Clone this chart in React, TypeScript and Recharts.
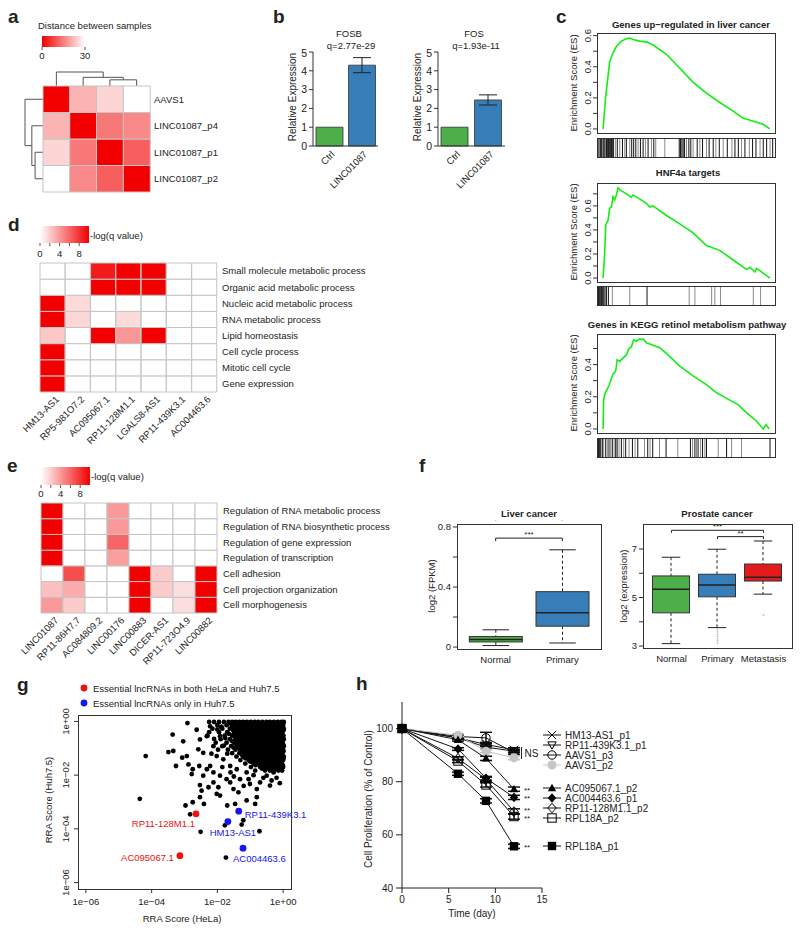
import React from "react";
import {
  BarChart, Bar, Cell, XAxis, YAxis, LineChart, Line, ErrorBar,
  ScatterChart, Scatter, ComposedChart, ReferenceLine,
} from "recharts";

const FONT = "'Liberation Sans', Arial, Helvetica, sans-serif";
const FS = 9.5;
const INK = "#222";
const GREEN = "#4DAF4A";
const BLUE = "#377EB8";
const RED = "#E41A1C";
const HEAT_RED = [242, 0, 0];

// ---- a: distance between samples
const distSamples = ["AAVS1", "LINC01087_p4", "LINC01087_p1", "LINC01087_p2"];
const distValues = [
  [0, 21, 25, 31],
  [21, 0, 14, 16],
  [25, 14, 0, 11],
  [31, 16, 11, 0],
];
// [leftPos, leftHeight, rightPos, rightHeight, mergeHeight]
const distMerges = [
  [2, 0, 3, 0, 0.44],
  [1, 0, 2.5, 0.44, 0.62],
  [0, 0, 1.75, 0.62, 1],
];

// ---- b: relative expression
const exprGroups = ["Ctrl", "LINC01087"];
const exprColors = [GREEN, BLUE];
const fosbMean = [1, 4.3];
const fosbErr = [0, 0.4];
const fosMean = [1, 2.45];
const fosErr = [0, 0.27];

// ---- c: GSEA running enrichment scores (x = rank position, % of list)
const gsea1X = [3.4, 4.9, 7.1, 9, 10.9, 13.7, 16.5, 18.4, 20.3, 24, 27.8, 31.5, 39, 46.5, 54, 61.5, 69, 76.5, 82, 87.8, 93.4, 97];
const gsea1ES = [0, 0.21, 0.43, 0.49, 0.53, 0.565, 0.58, 0.585, 0.575, 0.565, 0.56, 0.54, 0.48, 0.39, 0.3, 0.23, 0.17, 0.115, 0.07, 0.05, 0.03, 0];
const gsea2X = [3.4, 4.3, 4.9, 6.2, 7.1, 8.1, 9, 9.9, 10.9, 11.8, 12.8, 16.5, 19.3, 20.3, 22.1, 27.8, 29.6, 31.5, 39, 46.5, 54, 61.5, 65.3, 69, 76.5, 84.1, 85.9, 88.7, 89.7, 97.2];
const gsea2ES = [0, 0.2, 0.44, 0.48, 0.58, 0.59, 0.675, 0.65, 0.69, 0.75, 0.735, 0.7, 0.67, 0.69, 0.675, 0.62, 0.59, 0.6, 0.52, 0.45, 0.375, 0.27, 0.25, 0.23, 0.15, 0.07, 0.09, 0.05, 0.08, 0];
const gsea3X = [3.4, 3.75, 4.5, 5.6, 6.75, 8.1, 9, 10.5, 11.3, 12.8, 14.6, 16.5, 18, 19.3, 20.6, 22.1, 24, 24.9, 25.9, 27.8, 31.5, 35.3, 39, 46.5, 54, 61.5, 67.2, 72.8, 79.4, 84.1, 89.7, 93.4, 94.9, 96.8];
const gsea3ES = [0, 0.18, 0.22, 0.245, 0.27, 0.315, 0.34, 0.36, 0.43, 0.42, 0.44, 0.46, 0.5, 0.51, 0.555, 0.545, 0.56, 0.555, 0.56, 0.535, 0.52, 0.505, 0.47, 0.39, 0.33, 0.275, 0.225, 0.19, 0.15, 0.1, 0.048, 0, 0.027, 0];
const barcode1Dark = [0.4, 1.1, 1.9, 2.6, 3.4, 3.9, 4.5, 5.3, 5.8, 6.4, 6.9, 7.5, 8.1, 8.6, 9.2, 11.4, 14.3, 16.5, 19.5, 20.6, 21.8, 24.4, 25.9, 28.7, 31.9, 46.2, 46.9, 47.7, 48.4, 49.2, 51.6, 52.7, 56.3, 59.3, 63, 65.3, 68.7, 73.2, 77.5, 79.4, 83.1, 87.4, 89.3, 93.4, 95.3, 98.7];
const barcode1Gray = [10.3, 12.8, 15.6, 18.4, 23.1, 27.2, 30.6, 33, 38.1, 50.3, 54, 57.8, 61.5, 66.8, 70.9, 75.8, 81.2, 85.6, 91.6, 97.2];
const barcode2Dark = [0.4, 0.9, 1.5, 2.1, 2.6, 3.2, 3.8, 4.5, 5.3, 6.4, 28.1];
const barcode2Gray = [8.6, 18.4, 51.8, 55, 64.4, 66.2, 69.4, 87.8, 91.9];
const barcode3Dark = [0.4, 0.9, 1.5, 2.1, 3, 4.9, 6.75, 8.6, 10.5, 11.3, 13.7, 16.1, 19.9, 22.9, 28.5, 31.3, 38.8, 52.5, 55, 56.8, 59.3, 61.5, 72.8, 97.2];
const barcode3Gray = [3.75, 5.8, 7.7, 9.6, 12.4, 15, 18, 21.4, 26.7, 29.8, 35.1, 45.4, 53.7, 55.9, 58.2, 60.6, 68.1, 75.6, 81.2];

// ---- d, e: GO enrichment -log(q)
const goLncD = ["HM13-AS1", "RP5-981O7.2", "AC095067.1", "RP11-128M1.1", "LGALS8-AS1", "RP11-439K3.1", "AC004463.6"];
const goTermsD = ["Small molecule metabolic process", "Organic acid metabolic process", "Nucleic acid metabolic process", "RNA metabolic process", "Lipid homeostasis", "Cell cycle process", "Mitotic cell cycle", "Gene expression"];
const goValuesD = [
  [0, 0, 9, 10, 10, 0, 0],
  [0, 0, 10, 10, 10, 0, 0],
  [10, 1.4, 0, 0, 0, 0, 0],
  [10, 1.6, 0, 1.4, 0, 0, 0],
  [2.2, 0, 10, 4.1, 10, 0, 0],
  [10, 0, 0, 0, 0, 0, 0],
  [10, 0, 0, 0, 0, 0, 0],
  [10, 0, 0, 0, 0, 0, 0],
];
const goLncE = ["LINC01087", "RP11-86H7.7", "AC084809.2", "LINC00176", "LINC00883", "DICER-AS1", "RP11-723O4.9", "LINC00882"];
const goTermsE = ["Regulation of RNA metabolic process", "Regulation of RNA biosynthetic process", "Regulation of gene expression", "Regulation of transcription", "Cell adhesion", "Cell projection organization", "Cell morphogenesis"];
const goValuesE = [
  [10, 0, 0, 4, 0, 0, 0, 0],
  [10, 0, 0, 4, 0, 0, 0, 0],
  [10, 0, 0, 6, 0, 0, 0, 0],
  [10, 0, 0, 3.8, 0, 0, 0, 0],
  [0, 7, 0, 0, 10, 2, 0, 10],
  [2.5, 3.2, 0, 0, 10, 2, 1.3, 10],
  [4, 2, 0, 0, 10, 0, 1.3, 10],
];

// ---- f: boxplots [lo, q1, median, q3, hi]
const liverGroups = ["Normal", "Primary"];
const liverStats = [
  [0.01, 0.034, 0.05, 0.07, 0.115],
  [0.027, 0.139, 0.228, 0.369, 0.648],
];
const liverSig = [{ from: 1, to: 2, y: 0.726, label: "***" }];
const prostateGroups = ["Normal", "Primary", "Metastasis"];
const prostateStats = [
  [3.1, 4.37, 5.34, 5.89, 6.66],
  [3.76, 5.03, 5.52, 5.96, 6.99],
  [5.14, 5.68, 5.84, 6.38, 7.33],
];
const prostateOutliers = [[2, 3.68], [2, 3.58], [2, 3.48], [2, 3.4], [2, 3.3], [2, 3.22], [2, 3.12], [3, 4.27]];
const prostateSig = [
  { from: 1, to: 3, y: 7.77, label: "***" },
  { from: 2, to: 3, y: 7.51, label: "**" },
];

// ---- g: RRA scores, log10 (HeLa, Huh7.5)
const rraSparse = [
  [-4.36, -2.88], [-4.18, -1.29], [-2.91, -0.06], [-3.36, -0.49], [-3.49, -1.14], [-3.34, -1.1], [-3.26, -1.66], [-3.07, -1.35],
  [-2.93, -1.29], [-3.04, -0.74], [-2.88, -1.6], [-2.75, -1.78], [-2.78, -1.96], [-2.55, -1.66], [-2.53, -2.37], [-2.48, -2.58],
  [-2.53, -2.82], [-2.75, -3.01], [-2.97, -3.13], [-2.83, -3.46], [-2.51, -4.11], [-2.41, -3.07], [-2.27, -2.45], [-2.12, -2.27],
  [-1.97, -2.45], [-2.02, -2.7], [-1.92, -2.76], [-1.7, -3.13], [-1.77, -3.87], [-1.26, -3.84], [-1.21, -3.68], [-0.72, -4.09],
  [-1.74, -5.07], [-1.46, -3.07], [-1.11, -2.94], [-0.85, -3.07], [-0.8, -2.82], [-1.51, -2.52], [-1.36, -2.64], [-1.61, -2.27],
  [-2.32, -1.78], [-2.22, -1.66], [-2.12, -1.9], [-2.43, -2.02], [-1.92, -2.02], [-1.72, -2.15], [-1.31, -2.15], [-1.01, -2.33],
  [-0.7, -2.27], [-0.5, -2.02], [-0.29, -1.9], [-0.09, -1.78], [-0.4, -2.39], [-0.8, -2.52], [-2.58, -1.04], [-2.43, -1.17],
  [-2.32, -0.55], [-2.22, -0.18], [-2.12, -0.92], [-2.02, -1.29], [-1.92, -0.55], [-1.82, -1.41], [-1.61, -1.66], [-1.41, -1.78],
  [-1.11, -1.9], [-2.53, -0.67], [-2.63, -0.31], [-2.0, -0.3], [-1.8, -0.9], [-1.7, -1.2], [-0.9, -2.0], [-0.6, -2.1],
  [-0.2, -2.1], [-1.2, -2.4], [-1.6, -1.9], [-2.25, -0.4], [-2.1, -0.65], [-1.98, -1.05], [-1.88, -0.2], [-1.76, -0.62],
  [-2.18, -1.2], [-1.85, -1.7], [-1.5, -2.05], [-1.05, -2.15], [-0.35, -2.2], [-0.1, -2.3],
];
// dense cloud, by row: [log10 Huh7.5, log10 HeLa values]
const rraCloud: [number, number[]][] = [
  [-0.02, [-2.25, -2.1, -1.95, -1.8, -1.66, -1.55, -1.44, -1.33, -1.22, -1.1, -0.98, -0.86, -0.75, -0.63, -0.51, -0.4, -0.28, -0.16, -0.05, 0.02]],
  [-0.08, [-1.6, -1.49, -1.38, -1.27, -1.16, -1.04, -0.92, -0.8, -0.69, -0.57, -0.45, -0.34, -0.22, -0.1, 0.0]],
  [-0.14, [-2.0, -1.72, -1.5, -1.39, -1.27, -1.15, -1.04, -0.92, -0.8, -0.69, -0.57, -0.45, -0.34, -0.22, -0.1, 0.0]],
  [-0.2, [-1.88, -1.55, -1.44, -1.33, -1.21, -1.09, -0.97, -0.86, -0.74, -0.62, -0.5, -0.39, -0.27, -0.15, -0.04]],
  [-0.27, [-2.15, -1.85, -1.62, -1.47, -1.35, -1.23, -1.11, -0.99, -0.87, -0.76, -0.64, -0.52, -0.4, -0.29, -0.17, -0.06, 0.02]],
  [-0.33, [-1.52, -1.4, -1.28, -1.16, -1.04, -0.93, -0.81, -0.69, -0.57, -0.46, -0.34, -0.22, -0.1, 0.01]],
  [-0.4, [-1.95, -1.7, -1.45, -1.32, -1.2, -1.08, -0.96, -0.84, -0.72, -0.61, -0.49, -0.37, -0.25, -0.13, -0.02]],
  [-0.46, [-1.65, -1.5, -1.37, -1.25, -1.13, -1.01, -0.89, -0.78, -0.66, -0.54, -0.42, -0.31, -0.19, -0.07]],
  [-0.53, [-2.3, -1.78, -1.55, -1.42, -1.3, -1.18, -1.06, -0.94, -0.82, -0.7, -0.58, -0.46, -0.35, -0.23, -0.11, 0.01]],
  [-0.6, [-1.46, -1.34, -1.22, -1.1, -0.98, -0.86, -0.75, -0.63, -0.51, -0.39, -0.28, -0.16, -0.04]],
  [-0.66, [-1.9, -1.62, -1.4, -1.28, -1.16, -1.04, -0.92, -0.8, -0.68, -0.56, -0.45, -0.33, -0.21, -0.09, 0.02]],
  [-0.72, [-1.56, -1.43, -1.31, -1.19, -1.07, -0.95, -0.83, -0.72, -0.6, -0.48, -0.36, -0.25, -0.13, -0.01]],
  [-0.79, [-2.05, -1.72, -1.5, -1.37, -1.25, -1.13, -1.01, -0.89, -0.77, -0.66, -0.54, -0.42, -0.3, -0.18, -0.07]],
  [-0.85, [-1.42, -1.3, -1.18, -1.06, -0.94, -0.82, -0.7, -0.59, -0.47, -0.35, -0.23, -0.12, 0.0]],
  [-0.92, [-1.85, -1.58, -1.36, -1.24, -1.12, -1.0, -0.88, -0.76, -0.64, -0.52, -0.41, -0.29, -0.17, -0.05, 0.02]],
  [-0.98, [-1.5, -1.36, -1.24, -1.12, -1.0, -0.88, -0.76, -0.65, -0.53, -0.41, -0.29, -0.17, -0.06]],
  [-1.05, [-1.68, -1.45, -1.3, -1.18, -1.06, -0.94, -0.82, -0.7, -0.59, -0.47, -0.35, -0.23, -0.11, 0.0]],
  [-1.11, [-1.28, -1.14, -1.02, -0.9, -0.78, -0.66, -0.54, -0.43, -0.31, -0.19, -0.07, 0.01]],
  [-1.18, [-1.55, -1.33, -1.2, -1.08, -0.96, -0.84, -0.72, -0.6, -0.49, -0.37, -0.25, -0.13, -0.02]],
  [-1.24, [-1.25, -1.13, -1.02, -0.9, -0.78, -0.66, -0.54, -0.43, -0.31, -0.19, -0.08]],
  [-1.31, [-1.42, -1.22, -1.1, -0.98, -0.86, -0.74, -0.62, -0.5, -0.39, -0.27, -0.15, -0.04, 0.02]],
  [-1.37, [-1.15, -1.04, -0.92, -0.8, -0.68, -0.56, -0.45, -0.33, -0.21, -0.09, 0.01]],
  [-1.44, [-1.3, -1.05, -0.93, -0.81, -0.69, -0.57, -0.45, -0.34, -0.22, -0.1, 0.0]],
  [-1.5, [-1.0, -0.87, -0.75, -0.63, -0.51, -0.4, -0.28, -0.16, -0.04]],
  [-1.57, [-1.15, -0.9, -0.78, -0.66, -0.54, -0.42, -0.31, -0.19, -0.07]],
  [-1.63, [-0.84, -0.72, -0.6, -0.48, -0.37, -0.25, -0.13, -0.01]],
  [-1.7, [-0.98, -0.7, -0.58, -0.46, -0.35, -0.23, -0.11, 0.0]],
  [-1.76, [-0.64, -0.52, -0.41, -0.29, -0.17, -0.05]],
  [-1.83, [-0.85, -0.55, -0.4, -0.26, -0.14, -0.03]],
];
const rraBoth = [
  { name: "RP11-128M1.1", x: -2.65, y: -3.44, dx: -1, dy: 13.5, anchor: "end" },
  { name: "AC095067.1", x: -3.14, y: -5.0, dx: -6, dy: 5.5, anchor: "end" },
];
const rraHuh = [
  { name: "RP11-439K3.1", x: -1.35, y: -3.34, dx: 6, dy: 6.5, anchor: "start" },
  { name: "HM13-AS1", x: -1.68, y: -3.73, dx: 5, dy: 14.5, anchor: "middle" },
  { name: "AC004463.6", x: -1.22, y: -4.72, dx: -10, dy: 14, anchor: "start" },
];
const G_RED = "#EE1111";
const G_BLUE = "#1515EE";

// ---- h: cell proliferation
const hTimes = [0, 6, 9, 12];
const hNames = ["HM13-AS1_p1", "RP11-439K3.1_p1", "AAVS1_p3", "AAVS1_p2", "AC095067.1_p2", "AC004463.6_p1", "RP11-128M1.1_p2", "RPL18A_p2", "RPL18A_p1"];
const hValues = [
  [100, 96.5, 94, 92],
  [100, 96.5, 93, 91.5],
  [100, 97, 96.5, 91],
  [100, 97.5, 91.5, 89],
  [100, 95.8, 88.8, 77.2],
  [100, 92.3, 81.3, 74.1],
  [100, 88.8, 80.9, 68.8],
  [100, 87.8, 78.8, 66.9],
  [100, 83, 72.8, 55.7],
];
const hErrors = [
  [0, 0.6, 0.8, 0.8], [0, 0.5, 0.8, 0.6], [0, 0.6, 2.1, 0.8], [0, 0.5, 0.6, 0.7], [0, 0.5, 0.8, 0.8],
  [0, 0.5, 0.7, 0.8], [0, 0.6, 0.8, 1], [0, 0.6, 0.8, 1], [0, 0.6, 0.8, 0.8],
];
const hMarkers = ["x", "triDownOpen", "circleOpen", "circleGray", "triUp", "diamond", "diamondOpen", "squareOpen", "square"];
const hLegendY = [735, 745, 755, 765, 788, 798, 808, 818, 846];
const hStars = [793, 801, 812.5, 821, 849.5];

// ---------------- helpers ----------------
type Box = { x: number; y: number; w: number; h: number };
const P = 4;
function frame(b: Box, o: { yl?: number; yr?: number; xb?: number; mr?: number; ml?: number; mt?: number } = {}) {
  const yl = o.yl || 0, yr = o.yr || 0, xb = o.xb || 0, mr = o.mr || 0, ml = o.ml || 0, mt = o.mt || 0;
  return {
    style: { position: "absolute" as const, left: b.x - yl - ml - P, top: b.y - mt - P },
    width: b.w + yl + yr + mr + ml + 2 * P,
    height: b.h + xb + mt + 2 * P,
    margin: { top: P + mt, right: P + mr, bottom: P, left: P + ml },
  };
}

function heatColor(t: number) {
  const k = Math.max(0, Math.min(1, t));
  const c = (full: number) => Math.round(255 + (full - 255) * k);
  return `rgb(${c(HEAT_RED[0])},${c(HEAT_RED[1])},${c(HEAT_RED[2])})`;
}

const tickStyle = { fontSize: FS, fill: INK, fontFamily: FONT };

const RotYTick = (props: any) => {
  const { x, y, payload, fmt } = props;
  const label = fmt ? fmt(payload.value) : payload.value;
  return (
    <text x={x} y={y} transform={`rotate(-90, ${x}, ${y})`} textAnchor="middle" fontSize={FS} fontFamily={FONT} fill={INK}>
      {label}
    </text>
  );
};

const DiagTick = (props: any) => {
  const { x, y, payload, dx = 7, dy = 8 } = props;
  const px = x + dx, py = y + dy;
  return (
    <text x={px} y={py} transform={`rotate(-45, ${px}, ${py})`} textAnchor="end" fontSize={FS} fontFamily={FONT} fill={INK}>
      {payload.value}
    </text>
  );
};

const RowTick = (props: any) => {
  const { x, y, payload, rows } = props;
  const n = rows.length;
  return (
    <text x={x} y={y} dy="0.35em" textAnchor="start" fontSize={FS} fontFamily={FONT} fill={INK}>
      {rows[n - 1 - Math.floor(payload.value)]}
    </text>
  );
};

function Marker({ kind, cx, cy, s = 4.2 }: { kind: string; cx: number; cy: number; s?: number }) {
  const k = "#000";
  switch (kind) {
    case "x":
      return (
        <g stroke={k} strokeWidth={1}>
          <line x1={cx - s} y1={cy - s} x2={cx + s} y2={cy + s} />
          <line x1={cx - s} y1={cy + s} x2={cx + s} y2={cy - s} />
        </g>
      );
    case "triDownOpen":
      return <polygon points={`${cx - s},${cy - s * 0.75} ${cx + s},${cy - s * 0.75} ${cx},${cy + s}`} fill="none" stroke={k} />;
    case "triUp":
      return <polygon points={`${cx - s},${cy + s * 0.75} ${cx + s},${cy + s * 0.75} ${cx},${cy - s}`} fill={k} />;
    case "circleOpen":
      return <circle cx={cx} cy={cy} r={s} fill="none" stroke={k} />;
    case "circleGray":
      return <circle cx={cx} cy={cy} r={s + 0.3} fill="#c6c6c6" />;
    case "diamond":
      return <polygon points={`${cx},${cy - s - 0.6} ${cx + s},${cy} ${cx},${cy + s + 0.6} ${cx - s},${cy}`} fill={k} />;
    case "diamondOpen":
      return <polygon points={`${cx},${cy - s - 0.6} ${cx + s},${cy} ${cx},${cy + s + 0.6} ${cx - s},${cy}`} fill="none" stroke={k} />;
    case "squareOpen":
      return <rect x={cx - s} y={cy - s} width={2 * s} height={2 * s} fill="none" stroke={k} />;
    default:
      return <rect x={cx - s} y={cy - s} width={2 * s} height={2 * s} fill={k} />;
  }
}

// ---------------- panels ----------------
function Dendrogram({ box, side }: { box: Box; side: "top" | "left" }) {
  const f = frame(box);
  const segs = distMerges.map(([a, ah, b, bh, h]) => [
    { p: a, h: ah }, { p: a, h }, { p: b, h }, { p: b, h: bh },
  ]);
  const posAxis = { type: "number" as const, domain: [-0.5, 3.5], hide: true };
  return (
    <div style={f.style}>
      <LineChart width={f.width} height={f.height} margin={f.margin}>
        {side === "top" ? <XAxis dataKey="p" {...posAxis} /> : <XAxis dataKey="h" type="number" domain={[0, 1]} reversed hide />}
        {side === "top" ? <YAxis type="number" domain={[0, 1]} hide /> : <YAxis {...posAxis} reversed />}
        {segs.map((d, i) => (
          <Line key={i} data={d} dataKey={side === "top" ? "h" : "p"} type="linear" stroke="#555" strokeWidth={1} dot={false} isAnimationActive={false} />
        ))}
      </LineChart>
    </div>
  );
}

function Heatmap(props: {
  box: Box; rows: string[]; cols: string[]; values: number[][]; scale: (v: number) => string;
  labelW: number; xb: number; showCols: boolean; gap: number; ml: number;
}) {
  const { box, rows, cols, values, scale, labelW, xb, showCols, gap, ml } = props;
  const n = rows.length;
  const data = cols.map((c) => {
    const o: any = { name: c };
    rows.forEach((_, ri) => (o["r" + ri] = 1));
    return o;
  });
  const f = frame(box, { yr: labelW, xb, ml });
  return (
    <div style={f.style}>
      <BarChart width={f.width} height={f.height} margin={f.margin} data={data} barCategoryGap={0} barGap={0}>
        <XAxis dataKey="name" type="category" hide={!showCols} height={xb} interval={0} tickLine={false} axisLine={false}
          tickSize={0} tickMargin={0} tick={<DiagTick />} />
        <YAxis orientation="right" type="number" domain={[0, n]} ticks={rows.map((_, i) => i + 0.5)} interval={0}
          width={labelW} tickLine={false} axisLine={false} tickSize={0} tickMargin={gap} tick={<RowTick rows={rows} />} />
        {rows.map((_, k) => {
          const ri = n - 1 - k;
          return (
            <Bar key={k} dataKey={"r" + ri} stackId="h" stroke="#c4c4c4" strokeWidth={1} isAnimationActive={false}>
              {cols.map((_, ci) => <Cell key={ci} fill={scale(values[ri][ci])} />)}
            </Bar>
          );
        })}
      </BarChart>
    </div>
  );
}

function ExprBars({ box, mean, err }: { box: Box; mean: number[]; err: number[] }) {
  const data = exprGroups.map((g, i) => ({ name: g, v: mean[i], e: err[i] }));
  const f = frame(box, { yl: 24, xb: 44 });
  return (
    <div style={f.style}>
      <BarChart width={f.width} height={f.height} margin={f.margin} data={data} barSize={27}>
        <XAxis dataKey="name" interval={0} height={44} tickLine={false} tickSize={0} tickMargin={0}
          axisLine={{ stroke: "#333" }} tick={<DiagTick dx={6} dy={9} />} />
        <YAxis domain={[0, 5]} ticks={[0, 1, 2, 3, 4, 5]} width={24} tickSize={4} tickMargin={2}
          axisLine={{ stroke: "#333" }} tickLine={{ stroke: "#333" }} tick={{ ...tickStyle, fontSize: 10.5 }} />
        <Bar dataKey="v" stroke="#333" strokeWidth={0.8} isAnimationActive={false}>
          {data.map((_, i) => <Cell key={i} fill={exprColors[i]} />)}
          <ErrorBar dataKey="e" width={9} stroke="#222" strokeWidth={1} />
        </Bar>
      </BarChart>
    </div>
  );
}

function Gsea({ box, strip, xs, es, domain, ticks, dark, gray }: {
  box: Box; strip: Box; xs: number[]; es: number[]; domain: number[]; ticks: number[]; dark: number[]; gray: number[];
}) {
  const data = xs.map((x, i) => ({ x, es: es[i] }));
  const bars = [...gray.map((x) => ({ x, y: 0.5, c: "#8a8a8a" })), ...dark.map((x) => ({ x, y: 0.5, c: "#111" }))];
  const f = frame(box, { yl: 24 });
  const fs = frame(strip);
  const fmt = (v: number) => (Math.round(v * 10) % 2 === 0 ? v.toFixed(1) : "");
  return (
    <>
      <div style={f.style}>
        <LineChart width={f.width} height={f.height} margin={f.margin} data={data}>
          <XAxis dataKey="x" type="number" domain={[0, 100]} hide />
          <YAxis type="number" domain={domain} ticks={ticks} interval={0} width={24} tickSize={4} tickMargin={2}
            axisLine={false} tickLine={{ stroke: "#333" }} tick={<RotYTick fmt={fmt} />} />
          <Line dataKey="es" type="linear" stroke="#11EE11" strokeWidth={1.6} dot={false} isAnimationActive={false} />
        </LineChart>
      </div>
      <div style={fs.style}>
        <ScatterChart width={fs.width} height={fs.height} margin={fs.margin}>
          <XAxis dataKey="x" type="number" domain={[0, 100]} hide />
          <YAxis dataKey="y" type="number" domain={[0, 1]} hide />
          <Scatter data={bars} isAnimationActive={false}
            shape={(p: any) => (
              <line x1={p.cx} x2={p.cx} y1={p.cy - strip.h / 2} y2={p.cy + strip.h / 2} stroke={p.payload.c} strokeWidth={1} />
            )} />
        </ScatterChart>
      </div>
    </>
  );
}

const BoxShape = (props: any) => {
  const { x, y, width, height, payload } = props;
  const top = Math.min(y, y + height);
  const h = Math.abs(height);
  const [lo, q1, med, q3, hi] = payload.stats;
  const py = (v: number) => top + (h * (hi - v)) / (hi - lo);
  const cx = x + width / 2;
  const cap = width / 4;
  return (
    <g>
      <line x1={cx} x2={cx} y1={py(hi)} y2={py(q3)} stroke="#222" strokeDasharray="3 2.5" />
      <line x1={cx} x2={cx} y1={py(q1)} y2={py(lo)} stroke="#222" strokeDasharray="3 2.5" />
      <line x1={cx - cap} x2={cx + cap} y1={py(hi)} y2={py(hi)} stroke="#222" />
      <line x1={cx - cap} x2={cx + cap} y1={py(lo)} y2={py(lo)} stroke="#222" />
      <rect x={x} y={py(q3)} width={width} height={py(q1) - py(q3)} fill={payload.color} stroke="#333" />
      <line x1={x} x2={x + width} y1={py(med)} y2={py(med)} stroke="#222" strokeWidth={1.5} />
    </g>
  );
};

function BoxPanel({ box, groups, stats, colors, xDomain, yDomain, ticks, labeled, barSize, sig, drop, outliers }: {
  box: Box; groups: string[]; stats: number[][]; colors: string[]; xDomain: number[]; yDomain: number[];
  ticks: number[]; labeled: number[]; barSize: number; sig: { from: number; to: number; y: number; label: string }[];
  drop: number; outliers: number[][];
}) {
  const data = stats.map((s, i) => ({ x: i + 1, stats: s, lo: s[0], hi: s[4], color: colors[i] }));
  const out = outliers.map(([x, y]) => ({ x, y }));
  const f = frame(box, { yl: 22, xb: 16 });
  return (
    <div style={f.style}>
      <ComposedChart width={f.width} height={f.height} margin={f.margin} data={data}>
        <XAxis dataKey="x" type="number" domain={xDomain} ticks={groups.map((_, i) => i + 1)} interval={0}
          tickFormatter={(v: number) => groups[v - 1]} height={16} tickLine={false} axisLine={false}
          tickSize={0} tickMargin={7} tick={tickStyle} />
        <YAxis type="number" domain={yDomain} ticks={ticks} interval={0} width={22} tickSize={4} tickMargin={2}
          axisLine={false} tickLine={{ stroke: "#333" }} tick={tickStyle}
          tickFormatter={(v: number) => (labeled.includes(v) ? String(v) : "")} />
        <Bar dataKey={(d: any) => [d.lo, d.hi]} barSize={barSize} shape={<BoxShape />} isAnimationActive={false} />
        <Scatter data={out} dataKey="y" fill="#bbb" isAnimationActive={false}
          shape={(p: any) => <circle cx={p.cx} cy={p.cy} r={0.9} fill="#bbb" />} />
        {sig.map((s, i) => (
          <ReferenceLine key={"s" + i} segment={[{ x: s.from, y: s.y }, { x: s.to, y: s.y }]} stroke="#222"
            label={{ value: s.label, position: "top", fontSize: 8, fill: INK, offset: 1 }} />
        ))}
        {sig.map((s, i) => (
          <ReferenceLine key={"a" + i} segment={[{ x: s.from, y: s.y }, { x: s.from, y: s.y - drop }]} stroke="#222" />
        ))}
        {sig.map((s, i) => (
          <ReferenceLine key={"b" + i} segment={[{ x: s.to, y: s.y }, { x: s.to, y: s.y - drop }]} stroke="#222" />
        ))}
      </ComposedChart>
    </div>
  );
}

function RraPanel() {
  const box = { x: 78, y: 715, w: 213, h: 174 };
  const f = frame(box, { yl: 20, xb: 14, mr: 26, mt: 8 });
  const cloud = [
    ...rraSparse.map(([x, y]) => ({ x, y })),
    ...rraCloud.flatMap(([y, xs]) => xs.map((x) => ({ x, y }))),
  ];
  const fmt = (v: number) => (v === 0 ? "1e+00" : `1e\u2212${String(-v).padStart(2, "0")}`);
  const hl = (color: string) => (p: any) => (
    <g>
      <circle cx={p.cx} cy={p.cy} r={3.4} fill={color} />
      <text x={p.cx + p.payload.dx} y={p.cy + p.payload.dy} textAnchor={p.payload.anchor} fontSize={FS} fontFamily={FONT} fill={color}>
        {p.payload.name}
      </text>
    </g>
  );
  return (
    <div style={f.style}>
      <ScatterChart width={f.width} height={f.height} margin={f.margin}>
        <XAxis dataKey="x" type="number" domain={[-6.24, 0.24]} ticks={[-6, -4, -2, 0]} interval={0} tickFormatter={fmt}
          height={14} tickSize={4} tickMargin={5} axisLine={false} tickLine={{ stroke: "#333" }} tick={tickStyle} />
        <YAxis dataKey="y" type="number" domain={[-6.24, 0.24]} ticks={[-6, -4, -2, 0]} interval={0} width={20}
          tickSize={4} tickMargin={5} axisLine={false} tickLine={{ stroke: "#333" }} tick={<RotYTick fmt={fmt} />} />
        <Scatter data={cloud} isAnimationActive={false} shape={(p: any) => <circle cx={p.cx} cy={p.cy} r={2.4} fill="#000" />} />
        <Scatter data={rraBoth} isAnimationActive={false} shape={hl(G_RED)} />
        <Scatter data={rraHuh} isAnimationActive={false} shape={hl(G_BLUE)} />
      </ScatterChart>
    </div>
  );
}

function ProlifPanel() {
  const box = { x: 402, y: 702, w: 140, h: 186 };
  const f = frame(box, { yl: 30, xb: 14, mr: 10 });
  const data = hTimes.map((t, i) => {
    const row: any = { t };
    hValues.forEach((v, k) => {
      row["s" + k] = v[i];
      row["e" + k] = hErrors[k][i];
    });
    return row;
  });
  return (
    <div style={f.style}>
      <LineChart width={f.width} height={f.height} margin={f.margin} data={data}>
        <XAxis dataKey="t" type="number" domain={[0, 15]} ticks={[0, 5, 10, 15]} interval={0} height={14}
          tickSize={5} tickMargin={3} axisLine={{ stroke: "#222" }} tickLine={{ stroke: "#222" }} tick={{ ...tickStyle, fontSize: 10 }} />
        <YAxis type="number" domain={[40, 110]} ticks={[40, 60, 80, 100]} interval={0} width={30}
          tickSize={6} tickMargin={3} axisLine={{ stroke: "#222" }} tickLine={{ stroke: "#222" }} tick={{ ...tickStyle, fontSize: 10 }} />
        {hNames.map((name, k) => (
          <Line key={name} dataKey={"s" + k} name={name} type="linear" stroke={k === 3 ? "#c6c6c6" : "#111"} strokeWidth={1}
            isAnimationActive={false}
            dot={(p: any) => <Marker key={`${k}-${p.index}`} kind={hMarkers[k]} cx={p.cx} cy={p.cy} />}>
            <ErrorBar dataKey={"e" + k} width={6} stroke={k === 3 ? "#c6c6c6" : "#111"} />
          </Line>
        ))}
      </LineChart>
    </div>
  );
}

// ---------------- overlay text and frames ----------------
type TextSpec = { x: number; y: number; s: string; size?: number; bold?: boolean; anchor?: string; rot?: boolean; fill?: string };
const texts: TextSpec[] = [
  { x: 8, y: 23, s: "a", size: 19, bold: true },
  { x: 273, y: 23, s: "b", size: 19, bold: true },
  { x: 556, y: 23, s: "c", size: 19, bold: true },
  { x: 8, y: 231, s: "d", size: 19, bold: true },
  { x: 7, y: 472, s: "e", size: 19, bold: true },
  { x: 419, y: 472, s: "f", size: 19, bold: true },
  { x: 17, y: 691, s: "g", size: 19, bold: true },
  { x: 356, y: 690, s: "h", size: 19, bold: true },
  // a
  { x: 38, y: 28.5, s: "Distance between samples" },
  { x: 42, y: 58.5, s: "0", anchor: "middle" },
  { x: 85, y: 58.5, s: "30", anchor: "middle" },
  // b
  { x: 349, y: 36.5, s: "FOSB", anchor: "middle" },
  { x: 351, y: 48.5, s: "q=2.77e-29", anchor: "middle" },
  { x: 474, y: 36.5, s: "FOS", anchor: "middle" },
  { x: 476, y: 48.5, s: "q=1.93e-11", anchor: "middle" },
  { x: 292, y: 97, s: "Relative Expression", anchor: "middle", rot: true, size: 10 },
  { x: 417, y: 97, s: "Relative Expression", anchor: "middle", rot: true, size: 10 },
  // c
  { x: 691, y: 28, s: "Genes up\u2212regulated in liver cancer", anchor: "middle", bold: true },
  { x: 688, y: 176, s: "HNF4a targets", anchor: "middle", bold: true },
  { x: 687, y: 328, s: "Genes in KEGG retinol metabolism pathway", anchor: "middle", bold: true },
  { x: 574, y: 83, s: "Enrichment Score (ES)", anchor: "middle", rot: true },
  { x: 574, y: 232, s: "Enrichment Score (ES)", anchor: "middle", rot: true },
  { x: 574, y: 383, s: "Enrichment Score (ES)", anchor: "middle", rot: true },
  // d
  { x: 90, y: 238.5, s: "-log(q value)" },
  { x: 40, y: 256.5, s: "0", anchor: "middle" },
  { x: 59.6, y: 256.5, s: "4", anchor: "middle" },
  { x: 79.2, y: 256.5, s: "8", anchor: "middle" },
  // e
  { x: 91, y: 480, s: "-log(q value)" },
  { x: 41, y: 496.5, s: "0", anchor: "middle" },
  { x: 60.6, y: 496.5, s: "4", anchor: "middle" },
  { x: 80.2, y: 496.5, s: "8", anchor: "middle" },
  // f
  { x: 529, y: 516.5, s: "Liver cancer", anchor: "middle", bold: true },
  { x: 717, y: 516.5, s: "Prostate cancer", anchor: "middle", bold: true },
  { x: 432, y: 586, s: "log2 (FPKM)", anchor: "middle", rot: true },
  { x: 624, y: 586, s: "log2 (expression)", anchor: "middle", rot: true },
  // g
  { x: 93, y: 691.5, s: "Essential lncRNAs in both HeLa and Huh7.5" },
  { x: 93, y: 706.5, s: "Essential lncRNAs only in Huh7.5" },
  { x: 182, y: 921.5, s: "RRA Score (HeLa)", anchor: "middle" },
  { x: 49, y: 800, s: "RRA Score (Huh7.5)", anchor: "middle", rot: true },
  // h
  { x: 368, y: 799, s: "Cell Proliferation (% of Control)", anchor: "middle", rot: true, size: 10 },
  { x: 472, y: 916.5, s: "Time (day)", anchor: "middle", size: 10 },
  { x: 524.5, y: 756.5, s: "NS", size: 10 },
  ...hStars.map((y) => ({ x: 527, y, s: "**", anchor: "middle", size: 8 })),
  ...hNames.map((s, i) => ({ x: 565, y: hLegendY[i] + 3.6, s, size: 10 })),
];

const frames: Box[] = [
  { x: 597, y: 33, w: 178, h: 100 }, { x: 597, y: 138, w: 178, h: 19 },
  { x: 597, y: 183, w: 178, h: 99 }, { x: 597, y: 286, w: 178, h: 19 },
  { x: 597, y: 334, w: 178, h: 99 }, { x: 597, y: 438, w: 178, h: 19 },
  { x: 457, y: 524, w: 144, h: 125 }, { x: 643, y: 524, w: 149, h: 124 },
  { x: 78, y: 715, w: 213, h: 174 },
];

function Overlay() {
  return (
    <svg width={800} height={932} style={{ position: "absolute", left: 0, top: 0, pointerEvents: "none" }}>
      <defs>
        <linearGradient id="gradA" x1="0" x2="1" y1="0" y2="0">
          <stop offset="0" stopColor={heatColor(1)} />
          <stop offset="1" stopColor="#fff" />
        </linearGradient>
        <linearGradient id="gradQ" x1="0" x2="1" y1="0" y2="0">
          <stop offset="0" stopColor="#fff" />
          <stop offset="1" stopColor={heatColor(1)} />
        </linearGradient>
      </defs>
      {frames.map((b, i) => (
        <rect key={i} x={b.x + 0.5} y={b.y + 0.5} width={b.w} height={b.h} fill="none" stroke="#333" strokeWidth={1} />
      ))}
      <rect x={42} y={36} width={43} height={11} fill="url(#gradA)" />
      {[42, 85].map((x) => <line key={x} x1={x} x2={x} y1={47} y2={50} stroke="#555" />)}
      <rect x={40} y={226} width={49} height={17} fill="url(#gradQ)" />
      {[0, 2, 4, 6, 8].map((v) => <line key={v} x1={40 + v * 4.9} x2={40 + v * 4.9} y1={243} y2={246} stroke="#555" />)}
      <rect x={41} y={467} width={49} height={18} fill="url(#gradQ)" />
      {[0, 2, 4, 6, 8].map((v) => <line key={v} x1={41 + v * 4.9} x2={41 + v * 4.9} y1={485} y2={488} stroke="#555" />)}
      <circle cx={84} cy={688} r={3.4} fill={G_RED} />
      <circle cx={84} cy={703} r={3.4} fill={G_BLUE} />
      {hMarkers.map((m, i) => (
        <g key={m}>
          <line x1={543} x2={561} y1={hLegendY[i]} y2={hLegendY[i]} stroke={i === 3 ? "#c6c6c6" : "#111"} />
          <Marker kind={m} cx={552} cy={hLegendY[i]} />
        </g>
      ))}
      <line x1={521.5} x2={521.5} y1={747} y2={759} stroke="#222" />
      {texts.map((t, i) => {
        const size = t.size || FS;
        const bx = t.rot ? t.x + size * 0.36 : t.x;
        return (
          <text key={i} x={bx} y={t.y} fontSize={size} fontFamily={FONT} fontWeight={t.bold ? "bold" : "normal"}
            textAnchor={(t.anchor as any) || "start"} fill={t.fill || INK}
            transform={t.rot ? `rotate(-90, ${bx}, ${t.y})` : undefined}>
            {t.s}
          </text>
        );
      })}
    </svg>
  );
}

export default function App() {
  return (
    <div style={{ position: "absolute", left: 0, top: 0, width: 800, height: 932, background: "#fff", overflow: "hidden", fontFamily: FONT }}>
      {/* a */}
      <Dendrogram box={{ x: 43, y: 72, w: 107, h: 14 }} side="top" />
      <Dendrogram box={{ x: 25, y: 86, w: 18, h: 106 }} side="left" />
      <Heatmap box={{ x: 43, y: 86, w: 107, h: 106 }} rows={distSamples} cols={distSamples} values={distValues}
        scale={(v) => heatColor(1 - v / 30)} labelW={80} xb={0} showCols={false} gap={4} ml={0} />
      {/* b */}
      <ExprBars box={{ x: 313, y: 52, w: 65, h: 94 }} mean={fosbMean} err={fosbErr} />
      <ExprBars box={{ x: 438, y: 52, w: 67, h: 94 }} mean={fosMean} err={fosErr} />
      {/* c */}
      <Gsea box={{ x: 597, y: 33, w: 178, h: 100 }} strip={{ x: 597, y: 138, w: 178, h: 19 }} xs={gsea1X} es={gsea1ES}
        domain={[-0.026, 0.617]} ticks={[0, 0.1, 0.2, 0.3, 0.4, 0.5, 0.6]} dark={barcode1Dark} gray={barcode1Gray} />
      <Gsea box={{ x: 597, y: 183, w: 178, h: 99 }} strip={{ x: 597, y: 286, w: 178, h: 19 }} xs={gsea2X} es={gsea2ES}
        domain={[-0.033, 0.79]} ticks={[0, 0.1, 0.2, 0.3, 0.4, 0.5, 0.6, 0.7]} dark={barcode2Dark} gray={barcode2Gray} />
      <Gsea box={{ x: 597, y: 334, w: 178, h: 99 }} strip={{ x: 597, y: 438, w: 178, h: 19 }} xs={gsea3X} es={gsea3ES}
        domain={[-0.025, 0.59]} ticks={[0, 0.1, 0.2, 0.3, 0.4, 0.5]} dark={barcode3Dark} gray={barcode3Gray} />
      {/* d, e */}
      <Heatmap box={{ x: 40, y: 263, w: 177, h: 129 }} rows={goTermsD} cols={goLncD} values={goValuesD}
        scale={(v) => heatColor(v / 10)} labelW={170} xb={50} showCols gap={5} ml={36} />
      <Heatmap box={{ x: 41, y: 503, w: 176, h: 110 }} rows={goTermsE} cols={goLncE} values={goValuesE}
        scale={(v) => heatColor(v / 10)} labelW={185} xb={50} showCols gap={6} ml={36} />
      {/* f */}
      <BoxPanel box={{ x: 457, y: 524, w: 144, h: 125 }} groups={liverGroups} stats={liverStats} colors={[GREEN, BLUE]}
        xDomain={[0.42, 2.58]} yDomain={[-0.013, 0.82]} ticks={[0, 0.2, 0.4, 0.6, 0.8]} labeled={[0, 0.4, 0.8]}
        barSize={53} sig={liverSig} drop={0.02} outliers={[]} />
      <BoxPanel box={{ x: 643, y: 524, w: 149, h: 124 }} groups={prostateGroups} stats={prostateStats} colors={[GREEN, BLUE, RED]}
        xDomain={[0.38, 3.62]} yDomain={[2.92, 8.03]} ticks={[3, 4, 5, 6, 7]} labeled={[3, 5, 7]}
        barSize={37} sig={prostateSig} drop={0.1} outliers={prostateOutliers} />
      {/* g, h */}
      <RraPanel />
      <ProlifPanel />
      <Overlay />
    </div>
  );
}
